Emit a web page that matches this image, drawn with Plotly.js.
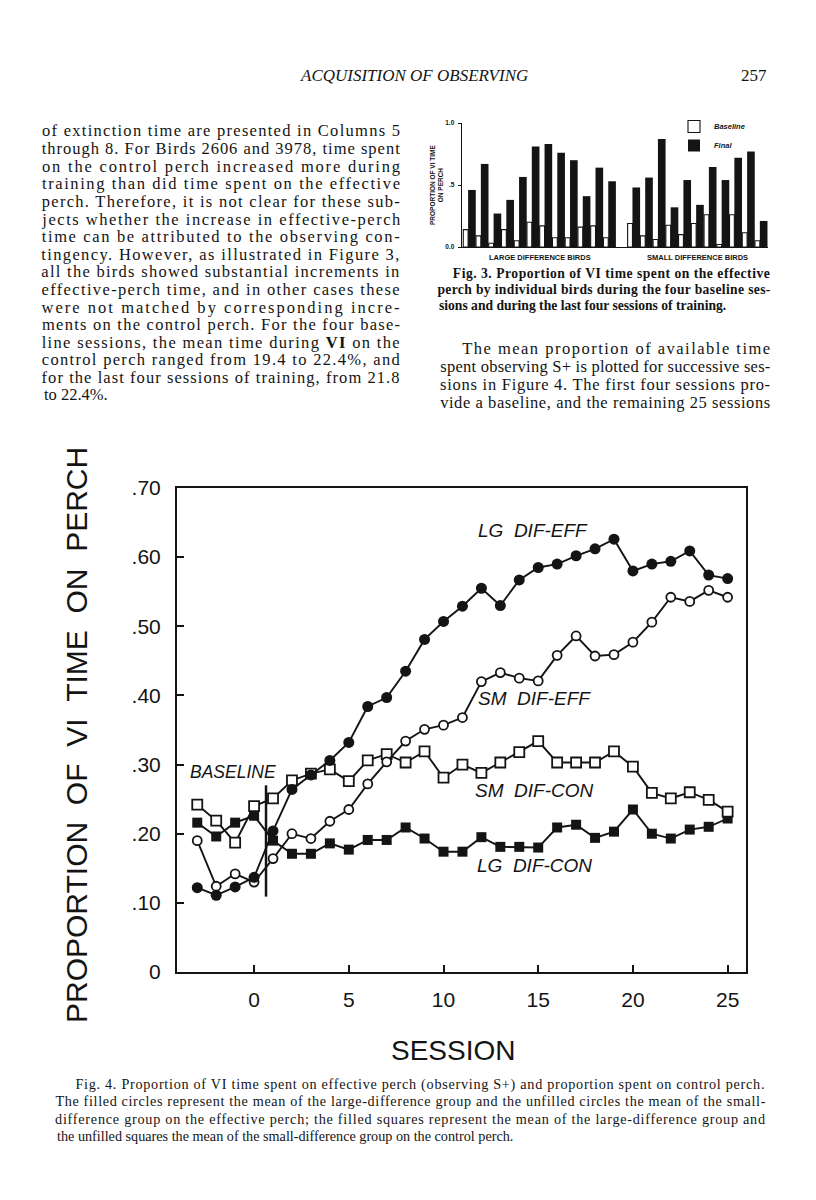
<!DOCTYPE html>
<html>
<head>
<meta charset="utf-8">
<script src="https://cdn.plot.ly/plotly-3.0.1.min.js"></script>
<style>
  html,body{margin:0;padding:0;background:#fff;}
  #chart{width:816px;height:1200px;}
</style>
</head>
<body>
<div id="chart"></div>
<script>
// ---------------- Fig. 4 data (mean proportion of VI time on perch) ----------------
const sessions = [-3,-2,-1,0,1,2,3,4,5,6,7,8,9,10,11,12,13,14,15,16,17,18,19,20,21,22,23,24,25];
const lgDifEff = [0.122,0.111,0.123,0.137,0.204,0.264,0.285,0.306,0.332,0.384,0.397,0.435,0.481,0.507,0.529,0.555,0.530,0.567,0.585,0.590,0.602,0.612,0.626,0.580,0.590,0.594,0.609,0.574,0.569];
const smDifEff = [0.190,0.124,0.142,0.130,0.164,0.200,0.193,0.218,0.235,0.272,0.304,0.334,0.351,0.357,0.368,0.420,0.433,0.425,0.421,0.458,0.486,0.457,0.459,0.477,0.506,0.542,0.536,0.552,0.542];
const smDifCon = [0.242,0.219,0.187,0.240,0.251,0.277,0.287,0.293,0.276,0.306,0.315,0.303,0.319,0.281,0.300,0.288,0.303,0.318,0.334,0.303,0.303,0.303,0.319,0.297,0.259,0.251,0.260,0.249,0.232];
const lgDifCon = [0.216,0.196,0.216,0.226,0.190,0.171,0.171,0.186,0.177,0.191,0.191,0.209,0.193,0.174,0.174,0.195,0.181,0.181,0.180,0.209,0.213,0.194,0.203,0.235,0.200,0.193,0.206,0.210,0.222];
const seriesLabels = ["LG DIF-EFF","SM DIF-EFF","SM DIF-CON","LG DIF-CON"];
const xTickVals = [0,5,10,15,20,25];
const yTickVals = [0,0.1,0.2,0.3,0.4,0.5,0.6,0.7];
const yTickText = ["0",".10",".20",".30",".40",".50",".60",".70"];
const baselineBoundary = 0.63;   // session position of the "baseline" divider

// ---------------- Fig. 3 data (individual birds) ----------------
const largeBaseline = [0.14,0.09,0.03,0.14,0.05,0.20,0.17,0.075,0.075,0.16,0.17,0.075];
const largeFinal    = [0.46,0.67,0.27,0.38,0.565,0.81,0.83,0.76,0.70,0.41,0.64,0.53];
const smallBaseline = [0.19,0.09,0.06,0.175,0.10,0.19,0.26,0.02,0.26,0.115,0.05];
const smallFinal    = [0.48,0.56,0.87,0.32,0.54,0.34,0.645,0.54,0.72,0.77,0.21];
const fig3GroupLabels = ["LARGE DIFFERENCE BIRDS","SMALL DIFFERENCE BIRDS"];
const fig3TickText = ["0.0",".5","1.0"];

// ---------------- Page text ----------------
const headerText = "ACQUISITION OF OBSERVING";
const pageNumber = "257";
const leftColumn = [
 "of extinction time are presented in Columns 5",
 "through 8. For Birds 2606 and 3978, time spent",
 "on the control perch increased more during",
 "training than did time spent on the effective",
 "perch. Therefore, it is not clear for these sub-",
 "jects whether the increase in effective-perch",
 "time can be attributed to the observing con-",
 "tingency. However, as illustrated in Figure 3,",
 "all the birds showed substantial increments in",
 "effective-perch time, and in other cases these",
 "were not matched by corresponding incre-",
 "ments on the control perch. For the four base-",
 "line sessions, the mean time during <b>VI</b> on the",
 "control perch ranged from 19.4 to 22.4%, and",
 "for the last four sessions of training, from 21.8",
 "to 22.4%."
];
const fig3Caption = [
 "Fig. 3. Proportion of VI time spent on the effective",
 "perch by individual birds during the four baseline ses-",
 "sions and during the last four sessions of training."
];
const rightColumn = [
 "The mean proportion of available time",
 "spent observing S+ is plotted for successive ses-",
 "sions in Figure 4. The first four sessions pro-",
 "vide a baseline, and the remaining 25 sessions"
];
const fig4Caption = [
 "Fig. 4. Proportion of VI time spent on effective perch (observing S+) and proportion spent on control perch.",
 "The filled circles represent the mean of the large-difference group and the unfilled circles the mean of the small-",
 "difference group on the effective perch; the filled squares represent the mean of the large-difference group and",
 "the unfilled squares the mean of the small-difference group on the control perch."
];

// ================= build =================
const W = 816, H = 1200;
const px = x => x / W;
const py = y => 1 - y / H;
const INK = '#141414';

const lineW = 1.9;
const traces = [
  {x: sessions, y: lgDifCon, mode:'lines+markers', type:'scatter', showlegend:false,
   line:{color:INK,width:lineW}, marker:{symbol:'square', size:10, color:INK}},
  {x: sessions, y: smDifCon, mode:'lines+markers', type:'scatter', showlegend:false,
   line:{color:INK,width:lineW}, marker:{symbol:'square', size:10, color:'#fff', line:{color:INK,width:1.8}}},
  {x: sessions, y: smDifEff, mode:'lines+markers', type:'scatter', showlegend:false,
   line:{color:INK,width:lineW}, marker:{symbol:'circle', size:9, color:'#fff', line:{color:INK,width:1.8}}},
  {x: sessions, y: lgDifEff, mode:'lines+markers', type:'scatter', showlegend:false,
   line:{color:INK,width:lineW}, marker:{symbol:'circle', size:11, color:INK}}
];

// Fig 3 bars: birds placed along an index axis, two groups separated by a gap
const groupGap = 0.9;
const largeX = largeFinal.map((_, i) => i);
const smallX = smallFinal.map((_, j) => largeFinal.length + groupGap + j);
traces.push({
  type:'bar', name:'Baseline', x: largeX.concat(smallX), y: largeBaseline.concat(smallBaseline),
  xaxis:'x2', yaxis:'y2', width:0.38, offset:0,
  marker:{color:'#fff', line:{color:INK, width:1.1}}
});
traces.push({
  type:'bar', name:'Final', x: largeX.concat(smallX), y: largeFinal.concat(smallFinal),
  xaxis:'x2', yaxis:'y2', width:0.6, offset:0.38,
  marker:{color:INK, line:{color:INK, width:0}}
});

const annotations = [];
const justify = [];
const serif = 'Liberation Serif, Times New Roman, serif';
const sans = 'Liberation Sans, Arial, sans-serif';

function addLine(text, left, right, y, size, doJustify, extra) {
  const a = {xref:'paper', yref:'paper', y: py(y), yanchor:'middle', showarrow:false, text:text,
             font:Object.assign({family:serif, size:size, color:INK}, extra||{})};
  if (doJustify) { a.x = px((left+right)/2); a.xanchor = 'center'; justify.push({i: annotations.length, w: right-left}); }
  else { a.x = px(left); a.xanchor = 'left'; }
  annotations.push(a);
}

// header
annotations.push({xref:'paper', yref:'paper', x:px(414), y:py(75), xanchor:'center', yanchor:'middle', showarrow:false,
  text: headerText, font:{family:serif, size:17, style:'italic', color:INK}});
annotations.push({xref:'paper', yref:'paper', x:px(769), y:py(75), xanchor:'right', yanchor:'middle', showarrow:false,
  text: pageNumber, font:{family:serif, size:17, color:INK}});

// left column
leftColumn.forEach((t, i) => addLine(t, 42, 400, 131 + i*17.6, 16.5, i < leftColumn.length-1));
// fig 3 caption
fig3Caption.forEach((t, i) => addLine(t, i===0 ? 453 : 437, 770, 273 + i*16.3, 13.6, i < fig3Caption.length-1, {weight:'bold'}));
// right column
rightColumn.forEach((t, i) => addLine(t, i===0 ? 462 : 440, 770, 349 + i*17.8, 16.5, true));
// fig 4 caption
fig4Caption.forEach((t, i) => addLine(t, i===0 ? 76 : 55, 765, 1084 + i*17.4, 14.2, i < fig4Caption.length-1));

// Fig 4 axis titles
annotations.push({xref:'paper', yref:'paper', x:px(76), y:py(735), xanchor:'center', yanchor:'middle', textangle:-90, showarrow:false,
  text:'PROPORTION\u00a0\u00a0OF\u00a0\u00a0VI\u00a0\u00a0TIME\u00a0\u00a0ON\u00a0\u00a0PERCH', font:{family:sans, size:30, color:INK}});
annotations.push({xref:'paper', yref:'paper', x:px(453), y:py(1050), xanchor:'center', yanchor:'middle', showarrow:false,
  text:'SESSION', font:{family:sans, size:28, color:INK}});

// series labels (data coordinates)
const labelPos = [[14.7,0.638],[14.8,0.395],[14.8,0.263],[14.8,0.154]];
seriesLabels.forEach((t, i) => annotations.push({xref:'x', yref:'y', x:labelPos[i][0], y:labelPos[i][1], xanchor:'center', yanchor:'middle',
  showarrow:false, text:t.replace(' ', '\u00a0\u00a0'), font:{family:sans, size:19, style:'italic', color:INK}}));
annotations.push({xref:'x', yref:'y', x:-3.5, y:0.289, xanchor:'left', yanchor:'middle', showarrow:false,
  text:'BASELINE', font:{family:sans, size:17.5, style:'italic', color:INK}});

// Fig 3 labels
annotations.push({xref:'paper', yref:'paper', x:px(436), y:py(185), xanchor:'center', yanchor:'middle', textangle:-90, showarrow:false,
  text:'PROPORTION OF VI TIME<br>ON PERCH', font:{family:sans, size:6.5, weight:'bold', color:INK}});
const largeMid = (largeX[0] + largeX[largeX.length-1] + 1) / 2;
const smallMid = (smallX[0] + smallX[smallX.length-1] + 1) / 2;
annotations.push({xref:'x2', yref:'paper', x:largeMid, y:py(258), xanchor:'center', yanchor:'middle', showarrow:false,
  text:fig3GroupLabels[0], font:{family:sans, size:7.5, weight:'bold', color:INK}});
annotations.push({xref:'x2', yref:'paper', x:smallMid, y:py(258), xanchor:'center', yanchor:'middle', showarrow:false,
  text:fig3GroupLabels[1], font:{family:sans, size:7.5, weight:'bold', color:INK}});

const layout = {
  width: W, height: H,
  margin:{l:0, r:0, t:0, b:0},
  paper_bgcolor:'#fff', plot_bgcolor:'rgba(0,0,0,0)',
  showlegend:true,
  barmode:'overlay',
  legend:{x:px(684), y:py(112), xanchor:'left', yanchor:'top', bgcolor:'rgba(0,0,0,0)',
          font:{family:sans, size:7.5, weight:'bold', style:'italic', color:INK},
          itemwidth:30, tracegroupgap:0, traceorder:'normal', indentation:-10},
  xaxis:{domain:[px(177), px(746)], range:[-4.07, 25.97], anchor:'y',
         tickvals:xTickVals, ticks:'inside', ticklen:7, tickwidth:2, tickcolor:INK,
         showline:true, mirror:true, linewidth:2, linecolor:INK,
         showgrid:false, zeroline:false, ticklabelstandoff:8,
         tickfont:{family:sans, size:21, color:INK}},
  yaxis:{domain:[py(972), py(488)], range:[0, 0.70], anchor:'x',
         tickvals:yTickVals, ticktext:yTickText, ticks:'inside', ticklen:7, tickwidth:2, tickcolor:INK,
         showline:true, mirror:true, linewidth:2, linecolor:INK,
         showgrid:false, zeroline:false, ticklabelstandoff:10,
         tickfont:{family:sans, size:21, color:INK}},
  xaxis2:{domain:[px(462), px(768)], range:[-0.1, smallX[smallX.length-1] + 1.02], anchor:'y2',
          showticklabels:false, ticks:'', showline:true, linewidth:1.4, linecolor:INK,
          showgrid:false, zeroline:false},
  yaxis2:{domain:[py(247), py(123)], range:[0, 1.0], anchor:'x2',
          tickvals:[0, 0.5, 1.0], ticktext:fig3TickText, ticks:'outside', ticklen:3, tickwidth:1, tickcolor:INK,
          showline:true, linewidth:1.4, linecolor:INK, showgrid:false, zeroline:false, ticklabelstandoff:2,
          tickfont:{family:sans, size:6.5, weight:'bold', color:INK}},
  shapes:[{type:'line', xref:'x', yref:'y', x0:baselineBoundary, x1:baselineBoundary, y0:0.109, y1:0.270,
           line:{color:INK, width:2.5}}],
  annotations: annotations
};

Plotly.newPlot('chart', traces, layout, {staticPlot:true, displayModeBar:false}).then(gd => {
  justify.forEach(j => {
    const t = gd.querySelector('.annotation[data-index="' + j.i + '"] text.annotation-text');
    if (t) { t.setAttribute('textLength', j.w); t.setAttribute('lengthAdjust', 'spacing'); }
  });
});
</script>
</body>
</html>
